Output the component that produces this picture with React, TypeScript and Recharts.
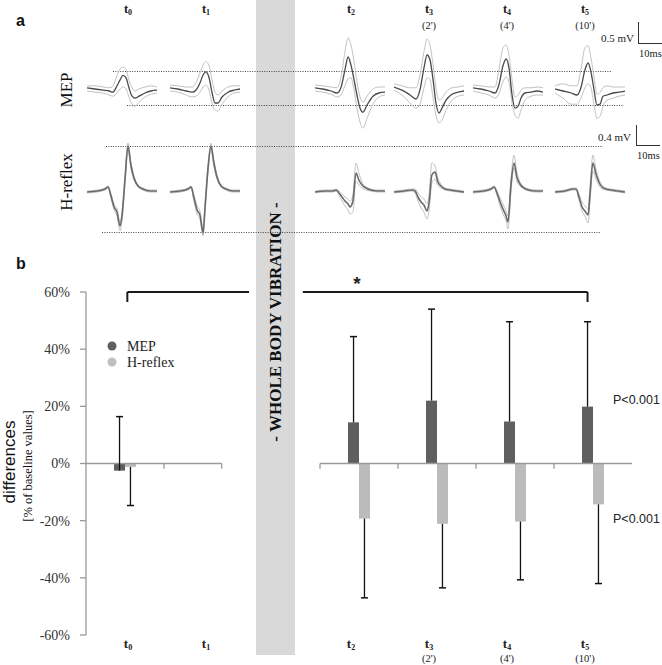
import React from "react";
import { Bar, BarChart, Line, LineChart, ReferenceLine, XAxis, YAxis } from "recharts";

const SERIF = '"Liberation Serif", "Times New Roman", serif';
const SANS = '"Liberation Sans", Arial, sans-serif';

// panel b: % change from baseline (mean, SD), 7 slots incl. the vibration gap
const CATS = ["t0", "t1", "gap", "t2", "t3", "t4", "t5"];
const CAT_NOTES = ["", "", "", "", "(2')", "(4')", "(10')"];
const MEP_CHANGE = [-2.5, null, null, 14.4, 22.0, 14.7, 19.9];
const MEP_SD = [18.9, null, null, 30.0, 32.0, 34.9, 29.7];
const H_CHANGE = [-1.2, null, null, -19.3, -21.1, -20.3, -14.3];
const H_SD = [13.5, null, null, 27.7, 22.4, 20.4, 27.7];
const Y_TICKS = [-60, -40, -20, 0, 20, 40, 60];

// panel a: averaged traces (mV) sampled at these times (ms)
const MEP_T = [0, 3.3, 6.7, 9.2, 10.8, 12.5, 13.8, 15, 16.3, 17.5, 18.8, 20, 21.7, 24.2, 26.7, 29.2];
const MEP_MEAN = [
  [0.03, 0, -0.03, -0.05, -0.08, 0.08, 0.23, 0.34, 0.28, 0.03, -0.18, -0.23, -0.18, -0.1, -0.05, -0.03],
  [0.03, 0, -0.05, -0.08, -0.03, 0.15, 0.35, 0.43, 0.28, -0.08, -0.35, -0.35, -0.2, -0.08, -0.03, 0],
  [0.03, 0, -0.05, -0.1, 0.03, 0.48, 0.8, 0.6, 0.23, -0.15, -0.48, -0.58, -0.4, -0.18, -0.1, -0.08],
  [0.05, -0.03, -0.15, -0.25, -0.03, 0.53, 0.85, 0.73, 0.23, -0.35, -0.6, -0.48, -0.28, -0.13, -0.08, -0.05],
  [0.03, 0, -0.05, -0.1, 0.1, 0.58, 0.75, 0.53, -0.15, -0.48, -0.43, -0.23, -0.1, -0.08, -0.05, -0.08],
  [0, -0.05, -0.1, -0.15, 0.03, 0.48, 0.65, 0.43, -0.03, -0.4, -0.38, -0.18, -0.15, -0.1, -0.08, -0.05],
];
const MEP_HI = [
  [0.08, 0.08, 0.05, 0.03, 0.08, 0.33, 0.5, 0.55, 0.48, 0.23, 0.03, -0.05, 0, 0.05, 0.08, 0.05],
  [0.1, 0.08, 0.05, 0.05, 0.15, 0.4, 0.6, 0.68, 0.58, 0.23, -0.08, -0.15, -0.05, 0.05, 0.08, 0.08],
  [0.1, 0.08, 0.05, 0.03, 0.28, 0.93, 1.28, 1.1, 0.68, 0.18, -0.2, -0.33, -0.18, 0, 0.05, 0.05],
  [0.13, 0.08, 0.03, 0.03, 0.33, 0.93, 1.25, 1.1, 0.6, 0.03, -0.28, -0.23, -0.08, 0.03, 0.05, 0.08],
  [0.1, 0.08, 0.05, 0.05, 0.48, 1.03, 1.1, 0.85, 0.23, -0.2, -0.15, -0.03, 0.03, 0.03, 0.05, 0.03],
  [0.08, 0.13, 0.08, 0.08, 0.48, 1.03, 1.08, 0.78, 0.28, -0.13, -0.08, 0.03, 0.08, 0.05, 0.05, 0.05],
];
const MEP_LO = [
  [-0.05, -0.08, -0.1, -0.15, -0.18, -0.1, 0, 0.05, 0, -0.2, -0.38, -0.43, -0.33, -0.2, -0.13, -0.1],
  [-0.05, -0.08, -0.15, -0.2, -0.18, -0.08, 0.05, 0.1, -0.03, -0.35, -0.53, -0.55, -0.38, -0.2, -0.1, -0.08],
  [-0.05, -0.08, -0.13, -0.2, -0.15, 0.08, 0.25, 0.28, -0.03, -0.48, -0.83, -0.98, -0.73, -0.38, -0.2, -0.15],
  [-0.03, -0.15, -0.35, -0.48, -0.38, 0.03, 0.28, 0.23, -0.23, -0.65, -0.85, -0.78, -0.53, -0.28, -0.18, -0.15],
  [-0.05, -0.1, -0.15, -0.23, -0.13, 0.18, 0.3, 0.18, -0.35, -0.65, -0.73, -0.53, -0.28, -0.18, -0.15, -0.15],
  [-0.1, -0.23, -0.38, -0.38, -0.23, 0.03, 0.13, 0.03, -0.4, -0.73, -0.68, -0.43, -0.28, -0.23, -0.18, -0.15],
];

const H_T = [0, 4.2, 7.5, 8.8, 10, 11.3, 12.5, 13.8, 14.6, 15.8, 17.1, 18.3, 19.6, 21.3, 23.3, 26.3, 29.2];
const H_MEAN = [
  [-0.02, 0, 0.04, 0.08, -0.1, -0.32, -0.42, -0.7, -0.5, 0.2, 0.9, 0.52, 0.26, 0.1, 0.04, 0, 0],
  [-0.02, 0, 0.04, 0.08, -0.14, -0.38, -0.48, -0.84, -0.34, 0.42, 0.9, 0.56, 0.28, 0.1, 0.04, 0, 0],
  [-0.02, 0, 0, 0.02, -0.04, -0.12, -0.2, -0.26, -0.32, -0.2, 0.36, 0.22, 0.12, 0.06, 0.02, 0, 0],
  [-0.02, 0, 0.02, 0, -0.12, -0.22, -0.28, -0.4, -0.24, 0.32, 0.38, 0.18, 0.1, 0.04, 0.02, 0, -0.02],
  [-0.02, 0, 0.04, 0.08, -0.04, -0.22, -0.36, -0.5, -0.62, 0.1, 0.56, 0.28, 0.14, 0.06, 0.02, 0, 0],
  [-0.02, 0, 0.04, 0.04, -0.12, -0.32, -0.4, -0.48, -0.06, 0.56, 0.34, 0.18, 0.08, 0.04, 0.02, 0, -0.02],
];
const H_HI = [
  [0, 0.02, 0.06, 0.1, -0.06, -0.26, -0.36, -0.62, -0.42, 0.28, 0.96, 0.58, 0.3, 0.12, 0.06, 0.02, 0.02],
  [0, 0.02, 0.06, 0.1, -0.08, -0.3, -0.4, -0.76, -0.26, 0.5, 0.96, 0.62, 0.32, 0.12, 0.06, 0.02, 0.02],
  [0, 0.02, 0.02, 0.04, 0, -0.06, -0.12, -0.16, -0.2, -0.08, 0.56, 0.36, 0.18, 0.08, 0.04, 0.02, 0.02],
  [0, 0.02, 0.04, 0.04, -0.04, -0.12, -0.16, -0.26, -0.08, 0.56, 0.5, 0.26, 0.14, 0.06, 0.04, 0.02, 0],
  [0, 0.02, 0.06, 0.1, 0, -0.14, -0.26, -0.4, -0.5, 0.22, 0.72, 0.38, 0.18, 0.08, 0.04, 0.02, 0.02],
  [0, 0.02, 0.06, 0.06, -0.06, -0.22, -0.3, -0.36, 0.06, 0.72, 0.44, 0.24, 0.12, 0.06, 0.04, 0.02, 0],
];
const H_LO = [
  [-0.04, -0.02, 0.02, 0.06, -0.14, -0.38, -0.5, -0.8, -0.58, 0.12, 0.84, 0.46, 0.22, 0.08, 0.02, -0.02, -0.02],
  [-0.04, -0.02, 0.02, 0.06, -0.2, -0.46, -0.56, -0.9, -0.42, 0.34, 0.84, 0.5, 0.24, 0.08, 0.02, -0.02, -0.02],
  [-0.04, -0.02, -0.02, 0, -0.08, -0.2, -0.3, -0.38, -0.46, -0.42, 0.2, 0.12, 0.06, 0.02, 0, -0.02, -0.02],
  [-0.04, -0.02, 0, -0.04, -0.2, -0.34, -0.42, -0.56, -0.4, 0.16, 0.24, 0.1, 0.06, 0.02, 0, -0.02, -0.04],
  [-0.04, -0.02, 0.02, 0.06, -0.08, -0.3, -0.46, -0.6, -0.76, -0.04, 0.46, 0.2, 0.1, 0.04, 0, -0.02, -0.02],
  [-0.04, -0.02, 0.02, 0.02, -0.18, -0.4, -0.5, -0.64, -0.2, 0.4, 0.24, 0.12, 0.04, 0.02, 0, -0.02, -0.04],
];

// layout
const TRACE_LEFT = [87, 170, 315, 394, 473, 555];
const SLOTS = [0, 1, 3, 4, 5, 6]; // category index of each recorded time point
const PLOT_LEFT = 86;
const SLOT_W = 78;
const BAR_SHIFT = 0.07; // half bar width in slot units
const colX = (i: number) => PLOT_LEFT + (i + 0.5) * SLOT_W + (i < 2 ? 3 : -8);

function Trace({ left, top, height, time, mean, hi, lo, domain, meanColor, meanWidth }: any) {
  const rows = time.map((t: number, i: number) => ({ t, mean: mean[i], hi: hi[i], lo: lo[i] }));
  return (
    <div style={{ position: "absolute", left, top }}>
      <LineChart width={70} height={height} data={rows} margin={{ top: 0, right: 0, bottom: 0, left: 0 }}>
        <XAxis dataKey="t" type="number" domain={[0, time[time.length - 1]]} hide />
        <YAxis domain={domain} hide />
        <Line dataKey="hi" type="monotone" stroke="#c2c2c2" strokeWidth={1} dot={false} isAnimationActive={false} />
        <Line dataKey="lo" type="monotone" stroke="#c2c2c2" strokeWidth={1} dot={false} isAnimationActive={false} />
        <Line dataKey="mean" type="monotone" stroke={meanColor} strokeWidth={meanWidth} dot={false} isAnimationActive={false} />
      </LineChart>
    </div>
  );
}

function TimeTick({ x, y, payload }: any) {
  const i = CATS.indexOf(payload.value);
  if (i === 2) return null;
  const nx = colX(i);
  return (
    <g>
      <text x={nx} y={y + 13} textAnchor="middle" fontFamily={SERIF} fontSize={13} fontWeight="bold" fill="#222">
        t<tspan fontSize={8} dy={1.5}>{payload.value.slice(1)}</tspan>
      </text>
      {CAT_NOTES[i] && (
        <text x={nx} y={y + 27} textAnchor="middle" fontFamily={SERIF} fontSize={10.5} fill="#222">
          {CAT_NOTES[i]}
        </text>
      )}
    </g>
  );
}

function VText({ x, y, size, family, weight, children }: any) {
  return (
    <text
      x={x}
      y={y}
      transform={`rotate(-90 ${x} ${y})`}
      textAnchor="middle"
      dominantBaseline="central"
      fontFamily={family}
      fontSize={size}
      fontWeight={weight}
      fill="#111"
    >
      {children}
    </text>
  );
}

export default function App() {
  const rows = CATS.map((c, i) => ({ cat: c, pos: i + 0.5, mep: MEP_CHANGE[i], h: H_CHANGE[i] }));

  const errorLines: any[] = [];
  rows.forEach((_, i) => {
    const sets: [any[], any[], number][] = [
      [MEP_CHANGE, MEP_SD, -1],
      [H_CHANGE, H_SD, 1],
    ];
    sets.forEach(([vals, sds, side]) => {
      const v = vals[i];
      if (v == null) return;
      const x = i + 0.5 + side * BAR_SHIFT;
      const end = side < 0 ? v + sds[i] : v - sds[i];
      errorLines.push(
        <ReferenceLine key={`e${i}${side}`} xAxisId="n" segment={[{ x, y: v }, { x, y: end }]} stroke="#111" strokeWidth={1.3} ifOverflow="visible" />,
        <ReferenceLine key={`c${i}${side}`} xAxisId="n" segment={[{ x: x - 0.045, y: end }, { x: x + 0.045, y: end }]} stroke="#111" strokeWidth={1.5} ifOverflow="visible" />
      );
    });
  });

  const axisGray = "#9a9a9a";
  const zeroSegs = [
    [0, 1.74],
    [3, 7],
  ];
  const zeroTicks = [1, 1.74, 3, 4, 5, 6];
  const bracket = [
    [[0.53, 60], [2.09, 60]],
    [[2.78, 60], [6.43, 60]],
    [[0.53, 60], [0.53, 56.5]],
    [[6.43, 60], [6.43, 56.5]],
  ];

  return (
    <div style={{ position: "absolute", left: 0, top: 0, width: 662, height: 665, background: "#fff", overflow: "hidden" }}>
      <div style={{ position: "absolute", left: 256, top: 0, width: 39, height: 655, background: "#d9d9d9" }} />

      <svg width={662} height={665} style={{ position: "absolute", left: 0, top: 0 }}>
        {/* guide lines of panel a */}
        <line x1={113} x2={611} y1={71.5} y2={71.5} stroke="#444" strokeDasharray="1 1.4" />
        <line x1={127} x2={623} y1={105.5} y2={105.5} stroke="#444" strokeDasharray="1 1.4" />
        <line x1={106} x2={603} y1={146.5} y2={146.5} stroke="#444" strokeDasharray="1 1.4" />
        <line x1={102} x2={600} y1={232.5} y2={232.5} stroke="#444" strokeDasharray="1 1.4" />

        <text x={16} y={26} fontFamily={SANS} fontWeight="bold" fontSize={16} fill="#111">a</text>
        <text x={16} y={269} fontFamily={SANS} fontWeight="bold" fontSize={16} fill="#111">b</text>

        {SLOTS.map((ci) => (
          <g key={ci}>
            <text x={colX(ci)} y={13} textAnchor="middle" fontFamily={SERIF} fontSize={12.5} fontWeight="bold" fill="#222">
              t<tspan fontSize={8} dy={1.5}>{CATS[ci].slice(1)}</tspan>
            </text>
            {CAT_NOTES[ci] && (
              <text x={colX(ci)} y={29} textAnchor="middle" fontFamily={SERIF} fontSize={10.5} fill="#222">
                {CAT_NOTES[ci]}
              </text>
            )}
          </g>
        ))}

        <VText x={66} y={90} size={17} family={SERIF}>MEP</VText>
        <VText x={66} y={182} size={17} family={SERIF}>H-reflex</VText>

        {/* scale bars */}
        <line x1={638.5} x2={638.5} y1={22} y2={43} stroke="#333" />
        <line x1={638} x2={662} y1={43.5} y2={43.5} stroke="#333" />
        <text x={634} y={42} textAnchor="end" fontFamily={SERIF} fontSize={11} fill="#222">0.5 mV</text>
        <text x={639} y={57} fontFamily={SERIF} fontSize={10.5} fill="#222">10ms</text>
        <line x1={636.5} x2={636.5} y1={125} y2={145} stroke="#333" />
        <line x1={636} x2={660} y1={145.5} y2={145.5} stroke="#333" />
        <text x={631} y={141} textAnchor="end" fontFamily={SERIF} fontSize={11} fill="#222">0.4 mV</text>
        <text x={637} y={159} fontFamily={SERIF} fontSize={10.5} fill="#222">10ms</text>

        <VText x={275.5} y={322} size={17} family={SERIF} weight="bold">- WHOLE BODY VIBRATION -</VText>

        <VText x={9} y={462} size={17} family={SANS}>differences</VText>
        <VText x={28} y={466} size={12.5} family={SERIF}>[% of baseline values]</VText>

        <circle cx={112} cy={346} r={4.5} fill="#5f5f5f" />
        <text x={127} y={351} fontFamily={SERIF} fontSize={14} fill="#222">MEP</text>
        <circle cx={112} cy={362} r={4.5} fill="#c0c0c0" />
        <text x={127} y={367} fontFamily={SERIF} fontSize={14} fill="#222">H-reflex</text>

        <text x={357} y={290} textAnchor="middle" fontFamily={SANS} fontSize={19} fontWeight="bold" fill="#222">*</text>
        <text x={613} y={403.5} fontFamily={SANS} fontSize={12.5} fill="#222">P&lt;0.001</text>
        <text x={613} y={522.5} fontFamily={SANS} fontSize={12.5} fill="#222">P&lt;0.001</text>
      </svg>

      {TRACE_LEFT.map((left, k) => (
        <Trace
          key={`m${k}`}
          left={left}
          top={30}
          height={105}
          time={MEP_T}
          mean={MEP_MEAN[k]}
          hi={MEP_HI[k]}
          lo={MEP_LO[k]}
          domain={[-1.15, 1.475]}
          meanColor="#4a4a4a"
          meanWidth={1.3}
        />
      ))}
      {TRACE_LEFT.map((left, k) => (
        <Trace
          key={`h${k}`}
          left={left}
          top={140}
          height={100}
          time={H_T}
          mean={H_MEAN[k]}
          hi={H_HI[k]}
          lo={H_LO[k]}
          domain={[-0.98, 1.02]}
          meanColor="#6a6a6a"
          meanWidth={1.6}
        />
      ))}

      <div style={{ position: "absolute", left: 0, top: 260 }}>
        <BarChart width={662} height={405} data={rows} barGap={0} margin={{ top: 32, right: 30, bottom: 0, left: 0 }}>
          <XAxis dataKey="cat" axisLine={false} tickLine={false} tickSize={0} tickMargin={0} height={30} interval={0} tick={<TimeTick />} />
          <XAxis xAxisId="n" type="number" dataKey="pos" domain={[0, 7]} hide />
          <YAxis
            width={86}
            domain={[-60, 60]}
            ticks={Y_TICKS}
            tickFormatter={(v) => `${v}%`}
            tick={{ fontFamily: SERIF, fontSize: 14, fill: "#333" }}
            tickSize={6}
            tickMargin={10}
            axisLine={{ stroke: axisGray, strokeWidth: 1.3 }}
            tickLine={{ stroke: axisGray, strokeWidth: 1.3 }}
          />
          <Bar dataKey="mep" fill="#5f5f5f" barSize={11} isAnimationActive={false} />
          <Bar dataKey="h" fill="#bbbbbb" barSize={11} isAnimationActive={false} />
          {zeroSegs.map(([a, b]) => (
            <ReferenceLine key={`z${a}`} xAxisId="n" segment={[{ x: a, y: 0 }, { x: b, y: 0 }]} stroke={axisGray} strokeWidth={1.5} />
          ))}
          {zeroTicks.map((t) => (
            <ReferenceLine key={`zt${t}`} xAxisId="n" segment={[{ x: t, y: 0 }, { x: t, y: -1.8 }]} stroke={axisGray} strokeWidth={1.3} />
          ))}
          {errorLines}
          {bracket.map(([p, q], k) => (
            <ReferenceLine key={`b${k}`} xAxisId="n" segment={[{ x: p[0], y: p[1] }, { x: q[0], y: q[1] }]} stroke="#1a1a1a" strokeWidth={2} ifOverflow="visible" />
          ))}
        </BarChart>
      </div>
    </div>
  );
}
